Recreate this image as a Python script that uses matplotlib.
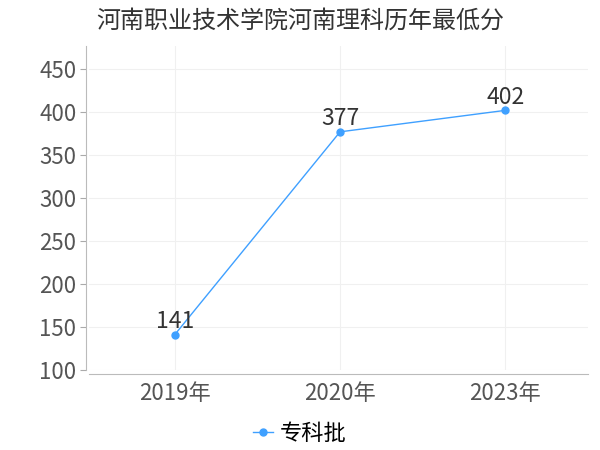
import matplotlib
matplotlib.use("Agg")
import matplotlib.pyplot as plt

plt.rcParams['font.family'] = ['Noto Sans CJK SC', 'DejaVu Sans']

years = ["2019年", "2020年", "2023年"]
scores = [141, 377, 402]
series_name = "专科批"
title = "河南职业技术学院河南理科历年最低分"
yticks = [100, 150, 200, 250, 300, 350, 400, 450]

line_color = "#3fa0ff"

fig = plt.figure(figsize=(6, 4.5), dpi=100)
ax = fig.add_axes([0.148, 0.178, 0.832, 0.72])

x = list(range(len(years)))
ax.plot(x, scores, color=line_color, lw=1, marker="o", ms=5, label=series_name)
for xi, v in zip(x, scores):
    ax.text(xi, v + 2, str(v), ha="center", va="bottom", fontsize=16.5, color="#333333")

ax.set_xlim(-0.52, 2.5)
ax.set_ylim(100, 477)
ax.set_xticks(x)
ax.set_xticklabels(years)
ax.set_yticks(yticks)
ax.tick_params(axis="both", labelsize=16, colors="#555555", length=0, pad=6)
ax.tick_params(axis="y", length=4, color="#aaaaaa", pad=3)

ax.grid(True, color="#f0f0f0", lw=0.8)
ax.set_axisbelow(True)
for s in ["top", "right"]:
    ax.spines[s].set_visible(False)
ax.spines["left"].set_color("#bbbbbb")
ax.spines["bottom"].set_color("#bbbbbb")
ax.spines["left"].set_position(("outward", 2))
ax.spines["bottom"].set_position(("outward", 3))

fig.text(0.16, 0.955, title, fontsize=17.3, color="#333333", va="center")

fig.legend(loc="lower center", bbox_to_anchor=(0.5, -0.033), frameon=False,
           fontsize=16, handlelength=0.9, handletextpad=0.3)

fig.savefig("out.png")
